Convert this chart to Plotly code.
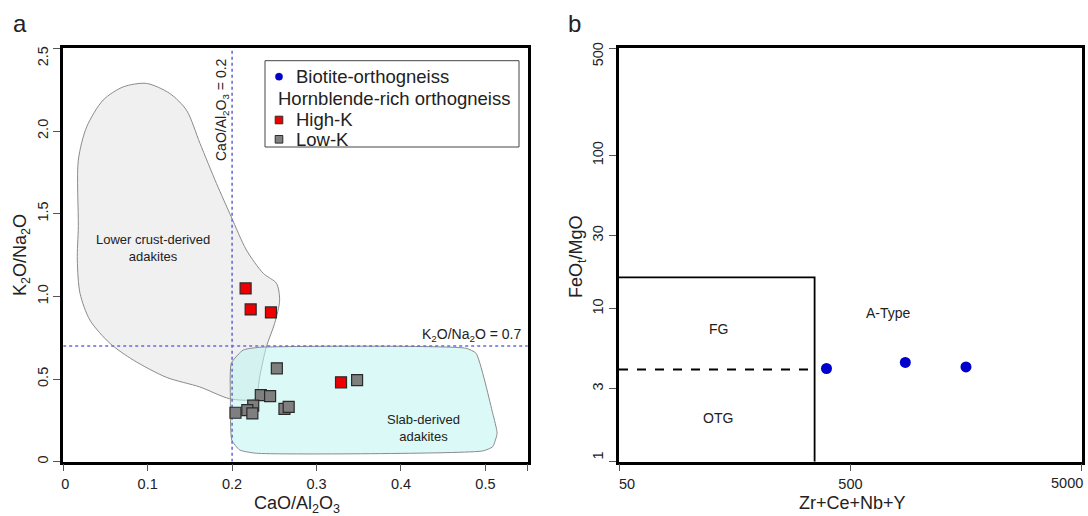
import math
import plotly.graph_objects as go

FONT = "Liberation Sans"
NB = "\u00a0"

# ---------------- Panel a data ----------------
high_k_x = [0.216, 0.222, 0.246, 0.329]
high_k_y = [1.048, 0.921, 0.903, 0.480]

low_k_x = [0.253, 0.348, 0.234, 0.245, 0.225, 0.218, 0.224, 0.204, 0.262, 0.267]
low_k_y = [0.565, 0.494, 0.403, 0.397, 0.339, 0.312, 0.292, 0.296, 0.319, 0.331]

lower_crust_x = [0.0987, 0.1263, 0.146, 0.162, 0.1815, 0.199, 0.217, 0.237, 0.2525, 0.2563,
                 0.2504, 0.2406, 0.2327, 0.2288, 0.2244, 0.197, 0.1618, 0.1224, 0.0829, 0.0553,
                 0.0317, 0.0199, 0.0167, 0.0179, 0.0179, 0.0278, 0.0474, 0.0711, 0.0987]
lower_crust_y = [2.288, 2.227, 2.126, 1.925, 1.683, 1.481, 1.280, 1.139, 1.079, 0.978,
                 0.837, 0.695, 0.514, 0.393, 0.375, 0.381, 0.452, 0.510, 0.615, 0.716,
                 0.856, 1.018, 1.219, 1.421, 1.824, 2.025, 2.188, 2.267, 2.288]

slab_x = [0.199, 0.213, 0.2327, 0.4771, 0.489, 0.5086, 0.5138, 0.5086, 0.4967, 0.2288,
          0.209, 0.1996, 0.198, 0.199]
slab_y = [0.595, 0.675, 0.692, 0.686, 0.655, 0.293, 0.172, 0.091, 0.065, 0.051,
          0.071, 0.131, 0.373, 0.595]

cao_limit = 0.2
k2o_limit = 0.7
xa_range = [0, 0.55]
ya_range = [0, 2.5]
xa_ticks = [0, 0.1, 0.2, 0.3, 0.4, 0.5, 0.55]
xa_ticktext = [NB + "0", "0.1", "0.2", "0.3", "0.4", "0.5", ""]
ya_ticks = [0, 0.5, 1.0, 1.5, 2.0, 2.5]
ya_ticktext = ["0", "0.5", "1.0", "1.5", "2.0", "2.5" + NB * 5]

# ---------------- Panel b data ----------------
biotite_x = [394, 863, 1578]
biotite_y = [4.06, 4.45, 4.16]

fg_box_x = [50, 350, 350]
fg_box_y = [16, 16, 1]
otg_split_x = [50, 350]
otg_split_y = [4, 4]

xb_range = [50, 5000]
yb_range = [1, 500]
xb_ticks = [50, 500, 5000]
xb_ticktext = [NB * 4 + "50", "500", ""]   # last label placed as right-aligned text below
xb_last_label = "5000"
yb_ticks = [1, 3, 10, 30, 100, 500]
yb_ticktext = [NB * 2 + "1", "3", "10", "30", "100", "500" + NB * 4]

# ---------------- Legend (panel a) ----------------
legend_labels = ["Biotite-orthogneiss", "Hornblende-rich orthogneiss", "High-K", "Low-K"]
legend_symbols = ["circle", None, "square", "square"]
legend_colors = ["#0000cc", None, "#ee0000", "#808080"]

W, H = 1088, 516

fig = go.Figure()

# Panel a regions
fig.add_trace(go.Scatter(x=lower_crust_x, y=lower_crust_y, mode="lines", fill="toself",
                         fillcolor="rgb(240,240,240)",
                         line=dict(color="#8a8a8a", width=1, shape="spline", smoothing=0.8),
                         showlegend=False, hoverinfo="skip"))
fig.add_trace(go.Scatter(x=slab_x, y=slab_y, mode="lines", fill="toself",
                         fillcolor="rgba(190,245,240,0.55)",
                         line=dict(color="#8a8a8a", width=1, shape="spline", smoothing=0.5),
                         showlegend=False, hoverinfo="skip"))
# threshold lines
fig.add_trace(go.Scatter(x=[cao_limit, cao_limit], y=ya_range, mode="lines",
                         line=dict(color="#6b6bd6", width=1.6, dash="dot"),
                         showlegend=False, hoverinfo="skip"))
fig.add_trace(go.Scatter(x=xa_range, y=[k2o_limit, k2o_limit], mode="lines",
                         line=dict(color="#6b6bd6", width=1.6, dash="dot"),
                         showlegend=False, hoverinfo="skip"))
# points
fig.add_trace(go.Scatter(x=low_k_x, y=low_k_y, mode="markers", name="Low-K", showlegend=False,
                         marker=dict(symbol="square", size=11, color="#7f7f7f",
                                     line=dict(color="#2a2a2a", width=1.2))))
fig.add_trace(go.Scatter(x=high_k_x, y=high_k_y, mode="markers", name="High-K", showlegend=False,
                         marker=dict(symbol="square", size=11, color="#ee0000",
                                     line=dict(color="#2a2a2a", width=1.2))))

# Panel b
fig.add_trace(go.Scatter(x=fg_box_x, y=fg_box_y, mode="lines", xaxis="x2", yaxis="y2",
                         line=dict(color="black", width=1.8), showlegend=False, hoverinfo="skip"))
fig.add_trace(go.Scatter(x=otg_split_x, y=otg_split_y, mode="lines", xaxis="x2", yaxis="y2",
                         line=dict(color="black", width=1.8, dash="dash"),
                         showlegend=False, hoverinfo="skip"))
fig.add_trace(go.Scatter(x=biotite_x, y=biotite_y, mode="markers", xaxis="x2", yaxis="y2",
                         name="Biotite-orthogneiss",
                         marker=dict(symbol="circle", size=11, color="#0000cc"), showlegend=False))

axis_common = dict(showline=True, mirror=True, linecolor="black", linewidth=2.5,
                   ticks="outside", ticklen=7, tickwidth=1, tickcolor="#555",
                   showgrid=False, zeroline=False, automargin=False,
                   ticklabeloverflow="allow",
                   tickfont=dict(size=14.5, family=FONT, color="#222"))

ydom = [(H - 461.7) / H, (H - 48.3) / H]
EPS = 0.0004

fig.update_layout(
    width=W, height=H,
    margin=dict(l=0, r=0, t=0, b=0, pad=0, autoexpand=False),
    paper_bgcolor="white", plot_bgcolor="white",
    font=dict(family=FONT, color="#222", size=14),
    xaxis=dict(domain=[63.2 / W, 528 / W], range=[xa_range[0], xa_range[1] + EPS],
               tickvals=xa_ticks, ticktext=xa_ticktext, anchor="y", **axis_common),
    yaxis=dict(domain=ydom, range=[ya_range[0], ya_range[1] + EPS],
               tickvals=ya_ticks, ticktext=ya_ticktext, tickangle=-90, anchor="x", **axis_common),
    xaxis2=dict(domain=[619 / W, 1082 / W], type="log",
                range=[math.log10(xb_range[0]), math.log10(xb_range[1]) + EPS], tickvals=xb_ticks,
                ticktext=xb_ticktext, anchor="y2", **axis_common),
    yaxis2=dict(domain=ydom, type="log",
                range=[math.log10(yb_range[0]), math.log10(yb_range[1]) + EPS], tickvals=yb_ticks,
                ticktext=yb_ticktext, tickangle=-90, anchor="x2", **axis_common),
    showlegend=False,
)

# legend box
fig.add_shape(type="rect", xref="paper", yref="paper",
              x0=265 / W, x1=519 / W, y0=1 - 147 / H, y1=1 - 60.7 / H,
              line=dict(color="#444", width=1), fillcolor="white", layer="below")

C = dict(xanchor="center", yanchor="middle", showarrow=False)
ann = []

# legend rows
row_y = [76.7, 98.3, 120, 139.3]
for lab, sym, col, ry in zip(legend_labels, legend_symbols, legend_colors, row_y):
    tx = 276 if sym is None else 293.5
    ann.append(dict(text=lab, x=tx / W, y=1 - ry / H, xref="paper", yref="paper",
                    xanchor="left", yanchor="middle", showarrow=False,
                    font=dict(size=18.5, family=FONT, color="#222")))
    if sym == "circle":
        fig.add_shape(type="circle", xref="paper", yref="paper",
                      x0=(279 - 3.6) / W, x1=(279 + 3.6) / W,
                      y0=1 - (ry + 3.6) / H, y1=1 - (ry - 3.6) / H,
                      fillcolor=col, line=dict(color=col, width=0.5))
    elif sym == "square":
        fig.add_shape(type="rect", xref="paper", yref="paper",
                      x0=(279 - 3.8) / W, x1=(279 + 3.8) / W,
                      y0=1 - (ry + 3.8) / H, y1=1 - (ry - 3.8) / H,
                      fillcolor=col, line=dict(color="#2a2a2a", width=1))

# last x tick label of panel b, right-aligned inside the figure
ann.append(dict(text=xb_last_label, x=math.log10(xb_ticks[-1]), y=1 - 483 / H,
                xref="x2", yref="paper", xanchor="right", yanchor="middle", showarrow=False,
                xshift=3, font=dict(size=14.5, family=FONT, color="#222")))

# panel labels
ann.append(dict(text="a", x=20 / W, y=1 - 24 / H, xref="paper", yref="paper",
                font=dict(size=24, family=FONT, color="#222"), **C))
ann.append(dict(text="b", x=574 / W, y=1 - 24 / H, xref="paper", yref="paper",
                font=dict(size=24, family=FONT, color="#222"), **C))
# axis titles
ann.append(dict(text="CaO/Al<sub>2</sub>O<sub>3</sub>", x=297 / W, y=1 - 504 / H,
                xref="paper", yref="paper", font=dict(size=18, family=FONT), **C))
ann.append(dict(text="K<sub>2</sub>O/Na<sub>2</sub>O", x=21 / W, y=1 - 255 / H, textangle=-90,
                xref="paper", yref="paper", font=dict(size=18, family=FONT), **C))
ann.append(dict(text="Zr+Ce+Nb+Y", x=852 / W, y=1 - 503 / H,
                xref="paper", yref="paper", font=dict(size=18, family=FONT), **C))
ann.append(dict(text="FeO<sub>t</sub>/MgO", x=577 / W, y=1 - 257 / H, textangle=-90,
                xref="paper", yref="paper", font=dict(size=18, family=FONT), **C))
# panel a labels
ann.append(dict(text="CaO/Al<sub>2</sub>O<sub>3</sub> = 0.2", x=0.1878, y=2.132, xref="x", yref="y",
                textangle=-90, font=dict(size=14, family=FONT), **C))
ann.append(dict(text="K<sub>2</sub>O/Na<sub>2</sub>O = 0.7", x=0.484, y=0.766, xref="x", yref="y",
                font=dict(size=14, family=FONT), **C))
ann.append(dict(text="Lower crust-derived<br>adakites", x=0.106, y=1.292, xref="x", yref="y",
                font=dict(size=13, family=FONT), **C))
ann.append(dict(text="Slab-derived<br>adakites", x=0.4266, y=0.204, xref="x", yref="y",
                font=dict(size=13, family=FONT), **C))
# panel b labels (log axes take log10 positions for annotations)
ann.append(dict(text="FG", x=math.log10(134.5), y=math.log10(7.4), xref="x2", yref="y2",
                font=dict(size=14, family=FONT), **C))
ann.append(dict(text="OTG", x=math.log10(134.5), y=math.log10(1.92), xref="x2", yref="y2",
                font=dict(size=14, family=FONT), **C))
ann.append(dict(text="A-Type", x=math.log10(730), y=math.log10(9.3), xref="x2", yref="y2",
                font=dict(size=14, family=FONT), **C))
fig.update_layout(annotations=ann)

fig.write_html("out.html", config={"displayModeBar": False},
               post_script="document.body.style.margin='0px';document.body.style.overflow='hidden';")
